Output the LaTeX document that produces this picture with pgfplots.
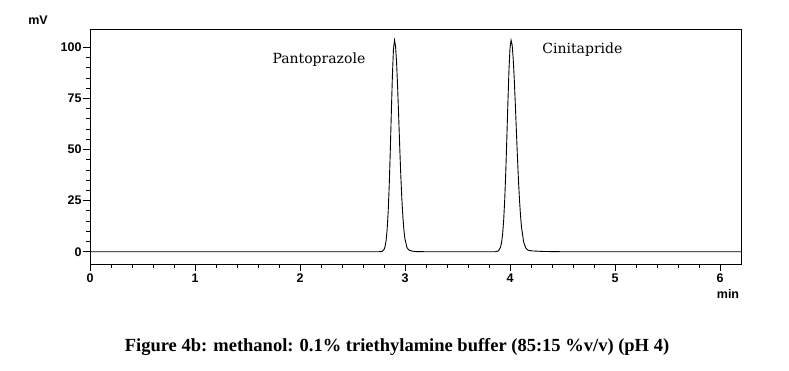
\documentclass[border=0pt]{standalone}
\usepackage{fontspec}
\setmainfont{Liberation Serif}
\setsansfont{Liberation Sans}
\newfontfamily\peakfont{DejaVu Serif}
\usepackage{pgfplots}
\pgfplotsset{compat=1.18}
\begin{document}
\begin{tikzpicture}[x=1pt,y=1pt]
\path[use as bounding box] (0,0) rectangle (789,-370);
\begin{axis}[
  at={(90pt,-29pt)}, anchor=north west,
  scale only axis, width=651pt, height=235pt,
  xmin=0, xmax=6.2, ymin=-6, ymax=109,
  xtick={0,1,2,3,4,5,6}, ytick={0,25,50,75,100},
  xtick pos=bottom, ytick pos=left,
  minor x tick num=4, minor y tick num=4,
  tick align=outside,
  major tick length=7pt, minor tick length=4pt,
  every tick/.style={black, line width=0.9pt},
  axis line style={black, line width=1pt},
  /pgf/number format/assume math mode=true,
  ticklabel style={font=\sffamily\bfseries\fontsize{12.5}{14}\selectfont},
  xticklabel style={yshift=1pt},
  yticklabel style={xshift=2pt},
  clip=false,
]
\addplot[black, line width=0.9pt] coordinates {
(0,0) (2.7,0) (2.75,0) (2.78,0.14) (2.80,1.05) (2.81,2.5) (2.82,5.5) (2.83,10.9)
(2.84,19.8) (2.85,32.8) (2.86,49.6) (2.87,68.5) (2.88,86.1) (2.89,98.9) (2.90,103.5)
(2.91,100.6) (2.92,92.4) (2.93,80.2) (2.94,65.8) (2.95,51.0) (2.96,37.3) (2.97,25.8)
(2.98,16.9) (2.99,10.4) (3.00,6.1) (3.02,1.9) (3.04,0.7) (3.07,0.3) (3.10,0.1) (3.2,0)
(3.8,0) (3.86,0) (3.89,0.4) (3.91,2.2) (3.92,4.5) (3.93,8.8) (3.94,15.6) (3.95,25.8)
(3.96,39.5) (3.97,55.8) (3.98,73.1) (3.99,88.7) (4.00,99.6) (4.01,103.5) (4.02,101.3)
(4.03,94.9) (4.04,85.1) (4.05,73.1) (4.06,60.2) (4.07,47.4) (4.08,35.7) (4.09,25.8)
(4.10,17.8) (4.11,11.8) (4.13,4.8) (4.15,1.8) (4.17,0.8) (4.21,0.4) (4.31,0.15) (4.5,0) (6.2,0)
};
\node[font=\peakfont\fontsize{14}{16}\selectfont] at (axis cs:2.18,94) {Pantoprazole};
\node[font=\peakfont\fontsize{14}{16}\selectfont] at (axis cs:4.69,99) {Cinitapride};
\end{axis}
\node[font=\sffamily\bfseries\fontsize{12.5}{14}\selectfont] at (38,-20) {mV};
\node[font=\sffamily\bfseries\fontsize{12.5}{14}\selectfont] at (728,-294) {min};
\node[font=\bfseries\fontsize{18.5}{22}\selectfont] at (397,-347) {Figure 4b: methanol: 0.1\% triethylamine buffer (85:15 \%v/v) (pH 4)};
\end{tikzpicture}
\end{document}
